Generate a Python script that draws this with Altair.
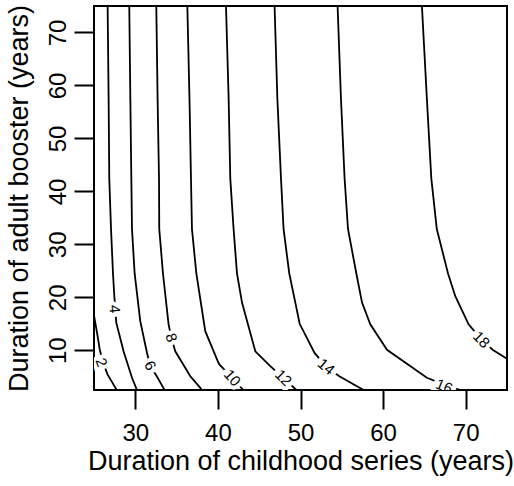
import altair as alt
import pandas as pd

# Contour lines (x = childhood series, y = adult booster)
c2_x = [25.0, 25.4, 25.7, 26.1, 26.65, 27.6, 27.75]
c2_y = [16.6, 13.0, 10.1, 7.7, 5.4, 2.9, 2.5]

c4_x = [26.65, 26.77, 26.85, 27.06, 27.3, 27.46, 27.58, 27.7, 28.58, 29.6, 30.2]
c4_y = [75.0, 57.5, 42.4, 32.9, 24.5, 20.2, 17.7, 15.2, 9.8, 4.8, 2.5]

c6_x = [29.27, 29.4, 29.52, 29.6, 29.92, 30.6, 31.42, 31.8, 32.6, 33.4, 33.57]
c6_y = [75.0, 57.5, 42.4, 32.9, 24.5, 15.5, 9.5, 7.1, 5.1, 2.9, 2.5]

c8_x = [32.54, 32.7, 32.87, 32.9, 33.35, 34.03, 34.36, 34.84, 36.66, 37.87, 38.05]
c8_y = [75.0, 57.5, 42.4, 32.9, 24.5, 14.9, 12.4, 9.8, 5.1, 2.9, 2.5]

c10_x = [36.3, 36.56, 36.74, 36.86, 37.39, 38.47, 40.08, 40.2, 41.74, 43.07]
c10_y = [75.0, 57.5, 42.4, 32.9, 24.5, 13.6, 7.6, 7.3, 4.8, 2.5]

c12_x = [40.98, 41.3, 41.5, 41.9, 42.31, 42.92, 44.53, 46.34, 47.92, 49.5]
c12_y = [75.0, 57.5, 42.4, 32.9, 24.5, 19.0, 9.8, 7.0, 4.8, 2.5]

c14_x = [46.86, 47.2, 47.64, 47.95, 48.64, 49.9, 51.7, 53.1, 54.7, 57.64]
c14_y = [75.0, 57.5, 42.4, 32.9, 24.5, 15.0, 9.5, 6.9, 5.1, 2.5]

c16_x = [54.49, 54.9, 55.34, 55.75, 56.76, 57.45, 58.45, 60.47, 65.3, 67.4, 69.35]
c16_y = [75.0, 57.5, 42.4, 32.9, 24.5, 19.0, 14.9, 10.1, 4.8, 3.5, 2.5]

c18_x = [64.7, 65.3, 65.84, 66.5, 67.86, 68.74, 70.35, 71.9, 73.26, 75.0]
c18_y = [75.0, 57.5, 42.4, 32.9, 24.5, 20.2, 14.9, 12.0, 10.1, 8.4]

levels = [2, 4, 6, 8, 10, 12, 14, 16, 18]
contour_x = [c2_x, c4_x, c6_x, c8_x, c10_x, c12_x, c14_x, c16_x, c18_x]
contour_y = [c2_y, c4_y, c6_y, c8_y, c10_y, c12_y, c14_y, c16_y, c18_y]

# Contour label positions and orientation
label_x = [25.88, 27.5, 31.8, 34.36, 41.74, 47.92, 53.1, 67.4, 71.9]
label_y = [7.7, 17.8, 7.1, 12.4, 4.8, 4.8, 6.9, 3.2, 12.0]
label_angle = [70, 85, 62, 72, 48, 45, 40, 22, 45]

x_ticks = [30, 40, 50, 60, 70]
y_ticks = [10, 20, 30, 40, 50, 60, 70]

rows = []
for lev, xs, ys in zip(levels, contour_x, contour_y):
    for i, (xv, yv) in enumerate(zip(xs, ys)):
        rows.append({"level": lev, "order": i, "x": xv, "y": yv})
lines_df = pd.DataFrame(rows)

labels_df = pd.DataFrame({
    "x": label_x, "y": label_y, "angle": label_angle,
    "text": [str(v) for v in levels],
})

FONT = "Liberation Sans"

xscale = alt.Scale(domain=[25, 75], nice=False, zero=False)
yscale = alt.Scale(domain=[2.5, 75], nice=False, zero=False)

x_axis = alt.Axis(
    values=x_ticks, grid=False, domain=False, tickSize=19, tickWidth=2,
    tickColor="black", labelFont=FONT, labelFontSize=24, labelColor="black",
    labelBaseline="alphabetic", labelPadding=31, labelFlush=False,
    title="Duration of childhood series (years)", titleFont=FONT,
    titleFontSize=27, titleFontWeight="normal", titleColor="black",
    titleBaseline="alphabetic", titleX=206.5, titleY=79, titleAlign="center",
)
y_axis = alt.Axis(
    values=y_ticks, grid=False, domain=False, tickSize=20, tickWidth=2,
    tickColor="black", labelFont=FONT, labelFontSize=24, labelColor="black",
    labelAngle=270, labelAlign="center", labelBaseline="middle",
    labelPadding=16, labelFlush=False,
    title="Duration of adult booster (years)", titleFont=FONT,
    titleFontSize=27, titleFontWeight="normal", titleColor="black",
    titleAngle=270, titleBaseline="alphabetic", titleAlign="center",
    titleX=-67, titleY=192,
)

lines = alt.Chart(lines_df).mark_line(
    color="black", strokeWidth=1.8, clip=True
).encode(
    x=alt.X("x:Q", scale=xscale, axis=x_axis),
    y=alt.Y("y:Q", scale=yscale, axis=y_axis),
    detail="level:N",
    order="order:Q",
)

halo = alt.Chart(labels_df).mark_text(
    font=FONT, fontSize=15, color="white", stroke="white", strokeWidth=8,
    clip=True, align="center", baseline="middle",
).encode(
    x=alt.X("x:Q", scale=xscale), y=alt.Y("y:Q", scale=yscale),
    text="text:N", angle=alt.Angle("angle:Q", scale=None),
)

texts = alt.Chart(labels_df).mark_text(
    font=FONT, fontSize=15, color="black", clip=True,
    align="center", baseline="middle",
).encode(
    x=alt.X("x:Q", scale=xscale), y=alt.Y("y:Q", scale=yscale),
    text="text:N", angle=alt.Angle("angle:Q", scale=None),
)

chart = alt.layer(lines, halo, texts).properties(
    width=413, height=384,
    autosize=alt.AutoSizeParams(type="none"),
    padding={"left": 94, "top": 6, "right": 7, "bottom": 96},
).configure(
    background="white",
    view=alt.ViewConfig(stroke="black", strokeWidth=2),
)

chart.save("out.html", embed_options={"renderer": "svg", "actions": False})
